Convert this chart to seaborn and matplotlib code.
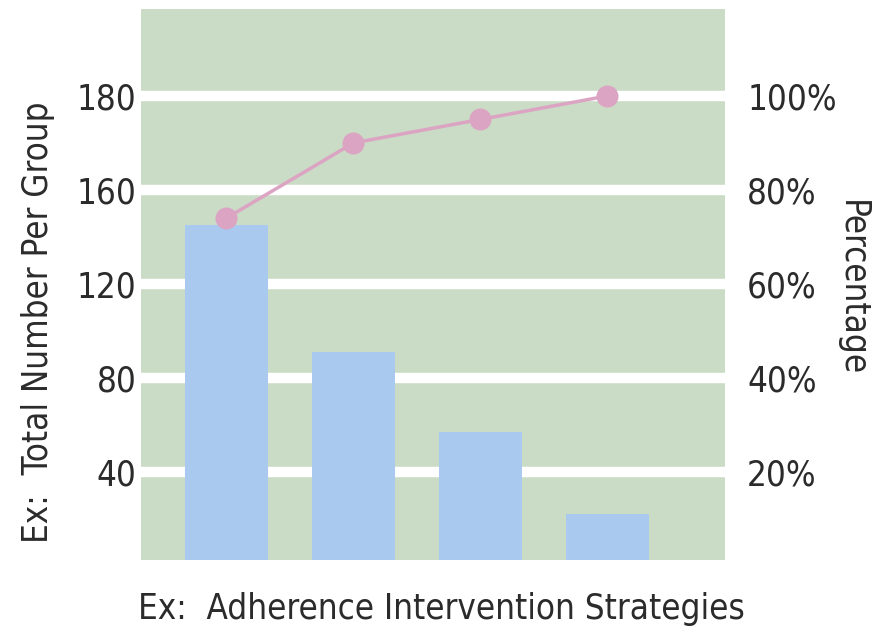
import matplotlib
matplotlib.use("Agg")
import matplotlib.pyplot as plt
from matplotlib import font_manager
import seaborn as sns
import pandas as pd

# Data
strategies = ["Strategy 1", "Strategy 2", "Strategy 3", "Strategy 4"]
group_totals = [145, 91, 57, 22]
cumulative_pct = [74, 90, 95, 100]

count_tick_pos = [40, 80, 120, 160, 200]
count_tick_labels = ["40", "80", "120", "160", "180"]
pct_ticks = [20, 40, 60, 80, 100]
pct_tick_labels = ["20%", "40%", "60%", "80%", "100%"]

BG = "#cadcc6"
BAR = "#a9c9ee"
LINE = "#dca4c3"
TEXT = "#2b2b2b"

sns.set_theme(style="white")

# prefer a condensed face when one is installed
condensed = [f for f in font_manager.fontManager.ttflist
             if "condensed" in str(f.stretch).lower() or "Narrow" in f.name
             or "Condensed" in f.name]
if condensed:
    family = condensed[0].name
    stretch = condensed[0].stretch
    FS = 25
else:
    family = "DejaVu Sans"
    stretch = "normal"
    FS = 22
plt.rcParams["font.family"] = [family, "DejaVu Sans"]
plt.rcParams["font.stretch"] = stretch

fig = plt.figure(figsize=(8.74, 6.38), dpi=100)
ax = fig.add_axes([0.1613, 0.1223, 0.8295 - 0.1613, 0.9859 - 0.1223])
ax.set_facecolor(BG)

df = pd.DataFrame({"strategy": strategies, "total": group_totals, "pct": cumulative_pct})

sns.barplot(data=df, x="strategy", y="total", color=BAR, width=0.65,
            saturation=1, linewidth=0, ax=ax, zorder=2)
ax.set_ylim(2.5, 237)
ax.set_yticks(count_tick_pos)
ax.set_yticklabels(count_tick_labels)
ax.grid(axis="y", color="white", linewidth=7.5)
ax.set_axisbelow(True)
ax.tick_params(axis="y", length=0, pad=3, labelsize=FS, labelcolor=TEXT)
for s in ax.spines.values():
    s.set_visible(False)

ax2 = ax.twinx()
sns.pointplot(data=df, x="strategy", y="pct", color=LINE, ax=ax2,
              markers="o", markersize=14, linewidth=2.5)
ax2.set_ylim(1.25, 118.5)
ax2.set_yticks(pct_ticks)
ax2.set_yticklabels(pct_tick_labels)
ax2.tick_params(axis="y", length=0, pad=16, labelsize=FS, labelcolor=TEXT)
ax2.grid(False)
ax2.set_ylabel("")
for s in ax2.spines.values():
    s.set_visible(False)

for a in (ax, ax2):
    a.set_xlim(-0.673, 3.925)
    a.set_xticks([])
ax2.set_xlabel("")

ax.set_xlabel("Ex:  Adherence Intervention Strategies", fontsize=FS, color=TEXT)
ax.xaxis.set_label_coords(0.514, -0.089)
ax.xaxis.label.set_va("center")
ax.set_ylabel("Ex:  Total Number Per Group", fontsize=FS, color=TEXT)
ax.yaxis.set_label_coords(-0.176, 0.432)
ax.yaxis.label.set_va("center")

# right-hand axis title, reading top to bottom
fig.text(852 / 874, 1 - 288 / 638, "Percentage", rotation=-90, fontsize=FS,
         color=TEXT, ha="center", va="center")

fig.savefig("out.png", dpi=100, facecolor="white")
